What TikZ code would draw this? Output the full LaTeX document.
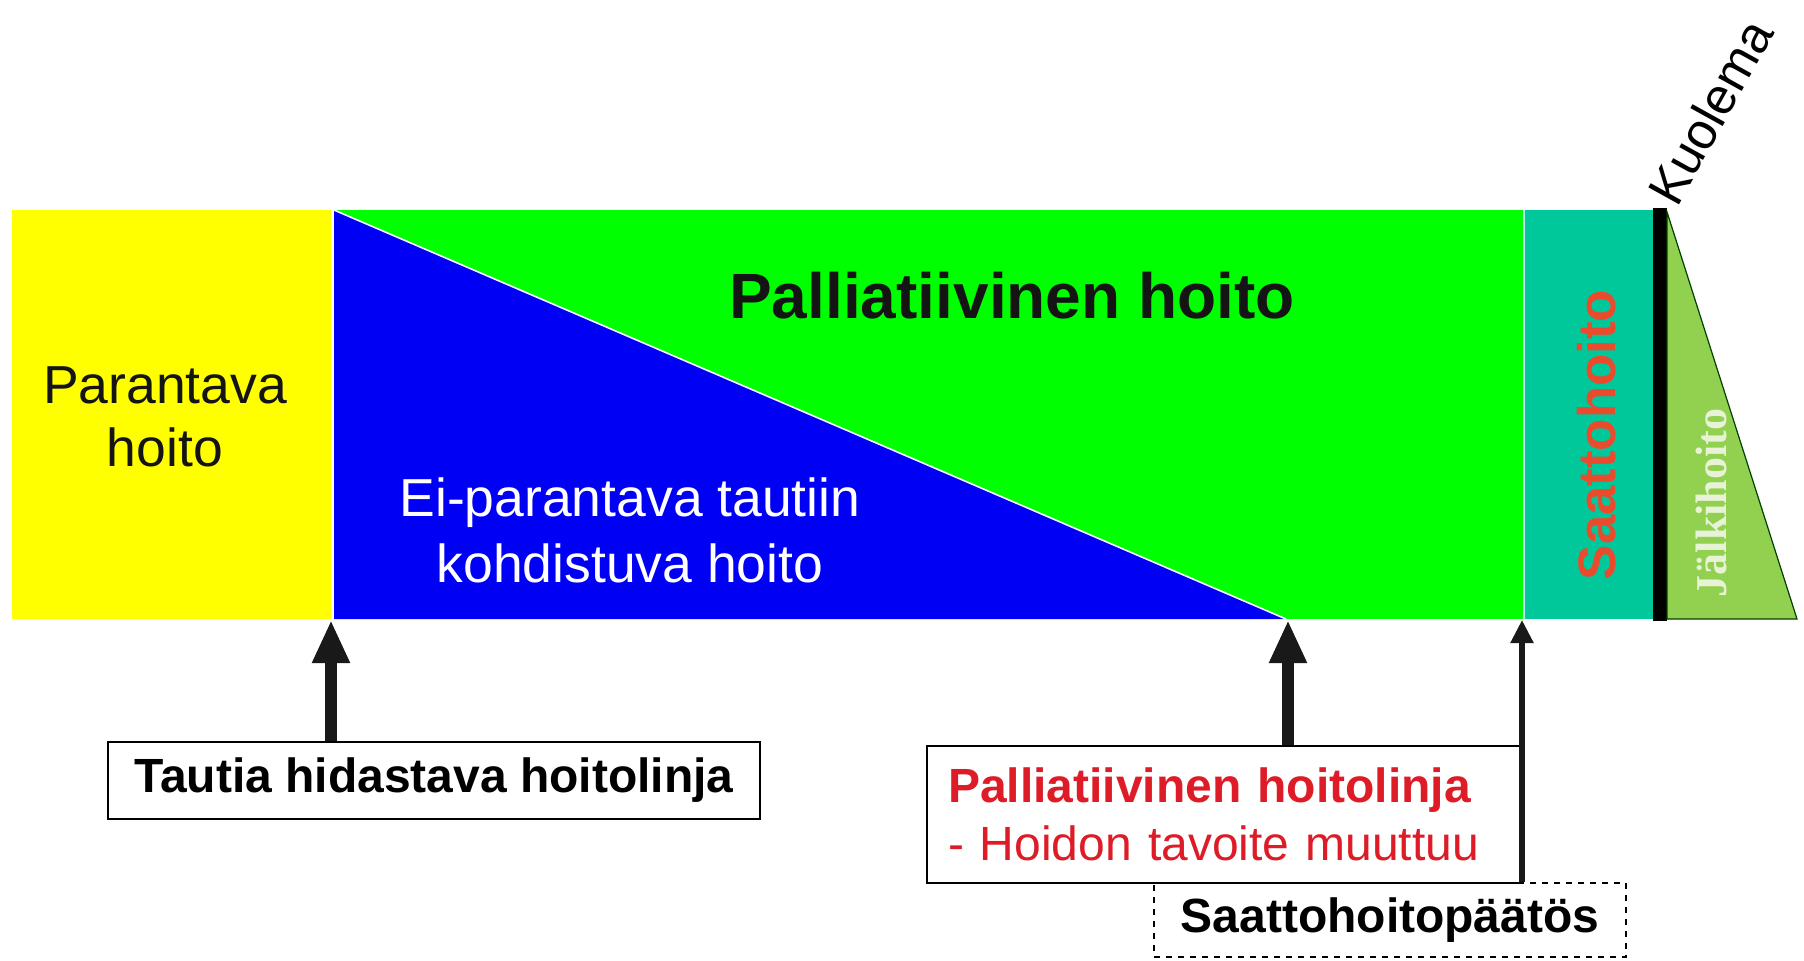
\documentclass[tikz,border=0pt]{standalone}
\usepackage{fontspec}
\setmainfont{Liberation Sans}
\newfontfamily\serifjk{Liberation Serif}
\usetikzlibrary{arrows.meta}
\definecolor{cyel}{RGB}{255,255,0}
\definecolor{cblue}{RGB}{0,0,245}
\definecolor{cgreen}{RGB}{0,255,0}
\definecolor{cteal}{RGB}{0,200,155}
\definecolor{cleaf}{RGB}{146,208,80}
\definecolor{cred}{RGB}{222,28,40}
\definecolor{corange}{RGB}{235,75,45}
\definecolor{cpale}{RGB}{232,242,215}
\definecolor{cdark}{RGB}{20,20,20}
\tikzset{
  infobox/.style={draw=black, line width=1pt, fill=white, inner sep=0pt},
  bigarrow/.style={line width=6pt, -{Triangle[width=17.5pt,length=21.5pt]}, black!90},
  smallarrow/.style={line width=2.6pt, -{Triangle[width=11pt,length=11.5pt]}, black!90},
}
\begin{document}
\begin{tikzpicture}[x=0.5pt,y=-0.5pt]
\useasboundingbox (0,0) rectangle (1804,960);
\fill[white] (0,0) rectangle (1804,960);
% bands
\fill[cyel] (12,210) rectangle (331,619);
\fill[cgreen] (334,210) rectangle (1524,619);
\fill[cblue] (334,210) -- (334,619) -- (1286,619) -- cycle;
\draw[white, line width=0.8pt] (334,210) -- (1286,619);
\fill[cteal] (1524,210) rectangle (1653,619);
\draw[cyan!25, line width=0.8pt] (1524,210) -- (1524,619);
\fill[black] (1653,208) rectangle (1667,621);
\filldraw[fill=cleaf, draw=black!75!green, line width=0.6pt] (1667,212) -- (1667,619) -- (1797,619) -- cycle;
% texts in bands
\node[font=\fontsize{26.75}{31.5}\selectfont, align=center, text=cdark] (par) at (165,417) {Parantava\\hoito};
\node[font=\bfseries\fontsize{32}{38}\selectfont, text=cdark] (pall) at (1012,296) {Palliatiivinen hoito};
\node[font=\fontsize{26.75}{33}\selectfont, align=center, text=white] (eipar) at (630,530) {Ei-parantava tautiin\\kohdistuva hoito};
\node[rotate=90, text=corange, font=\bfseries\fontsize{26.4}{30}\selectfont] (saattoh) at (1597,435) {Saattohoito};
\node[rotate=90, text=cpale, font=\serifjk\bfseries\fontsize{22}{26}\selectfont] (jalki) at (1711,503) {Jälkihoito};
\node[rotate=61, anchor=base west, inner sep=0pt, font=\fontsize{25.5}{30}\selectfont] (kuolema) at (1677,209) {Kuolema};
% boxes
\node[infobox, dashed, minimum width=236pt, minimum height=37pt, font=\bfseries\fontsize{24}{28}\selectfont] (saatto) at (1390,920) {Saattohoitopäätös};
\node[infobox, minimum width=326pt, minimum height=38.5pt, font=\bfseries\fontsize{24}{28}\selectfont] (tautia) at (434,780.5) {Tautia hidastava hoitolinja};
\node[infobox, minimum width=297pt, minimum height=68.5pt, text width=276pt, inner xsep=10.5pt, align=left, text=cred, font=\fontsize{24}{29}\selectfont] (pbox) at (1224,814.5) {\textbf{Palliatiivinen hoitolinja}\\- Hoidon tavoite muuttuu};
% arrows
\coordinate (a1) at (331,620);
\coordinate (a2) at (1288,620);
\coordinate (a3) at (1522,620);
\draw[bigarrow] (tautia.north -| a1) -- (a1);
\draw[bigarrow] (pbox.north -| a2) -- (a2);
\draw[smallarrow] (saatto.north -| a3) -- (a3);
\end{tikzpicture}
\end{document}
